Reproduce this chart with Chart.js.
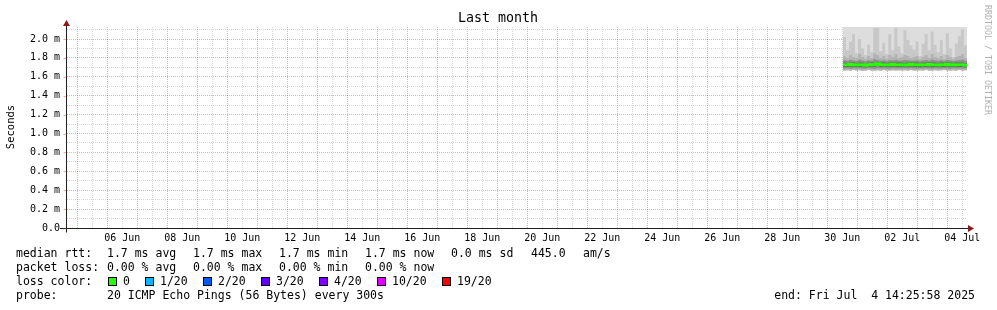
<!DOCTYPE html>
<html>
<head>
<meta charset="utf-8">
<title>Last month</title>
<script src="https://cdn.jsdelivr.net/npm/chart.js@4.4.1/dist/chart.umd.min.js"></script>
<style>
  html, body { margin: 0; padding: 0; background: #fff; }
  #grafico { display: block; }
</style>
</head>
<body>
<canvas id="grafico" width="997" height="310"></canvas>
<script>
// eixo x em dias de junho (31 = 01 Jul, 34 = 04 Jul)
const inicioJanela = 4.657;
const fimJanela = 34.657;
const inicioFumaca = 30.52;

const rotulosX = ['06 Jun', '08 Jun', '10 Jun', '12 Jun', '14 Jun', '16 Jun', '18 Jun', '20 Jun',
  '22 Jun', '24 Jun', '26 Jun', '28 Jun', '30 Jun', '02 Jul', '04 Jul'];
const valoresY = [0, 0.2, 0.4, 0.6, 0.8, 1.0, 1.2, 1.4, 1.6, 1.8, 2.0];
const rotulosY = ['0.0', '0.2 m', '0.4 m', '0.6 m', '0.8 m', '1.0 m', '1.2 m', '1.4 m', '1.6 m', '1.8 m', '2.0 m'];
const maximoY = 2.127;

// valores em ms
const pingMinimo = [1.668, 1.670, 1.666, 1.672, 1.668, 1.670, 1.665, 1.668, 1.671, 1.668, 1.666, 1.670, 1.668, 1.672,
  1.668, 1.666, 1.670, 1.668, 1.669, 1.667, 1.670, 1.668, 1.672, 1.668, 1.666, 1.670, 1.668, 1.671,
  1.668, 1.666, 1.670, 1.668, 1.669, 1.672, 1.668, 1.666, 1.670, 1.668, 1.671, 1.668, 1.670, 1.668];
const pingMaximo = [2.13, 2.13];
const fumacaPicos = [2.02, 1.88, 1.97, 2.05, 1.85, 2.00, 1.90, 1.83, 1.94, 1.86, 2.12, 2.12, 1.87, 1.96,
  1.84, 2.05, 1.88, 2.12, 1.92, 1.85, 2.09, 1.99, 1.93, 1.89, 1.97, 1.82, 1.95, 2.05,
  1.88, 2.08, 1.94, 1.86, 1.99, 1.84, 2.06, 1.90, 1.81, 1.95, 2.03, 2.10, 1.93, 1.98];
const fumacaMeio = [1.82, 1.80, 1.83, 1.81, 1.80, 1.84, 1.81, 1.79, 1.82, 1.80, 1.85, 1.83, 1.80, 1.82,
  1.79, 1.83, 1.81, 1.84, 1.80, 1.81, 1.83, 1.82, 1.80, 1.81, 1.82, 1.79, 1.81, 1.83,
  1.80, 1.84, 1.81, 1.80, 1.82, 1.79, 1.83, 1.81, 1.79, 1.81, 1.82, 1.84, 1.80, 1.82];
const escuraAlta = [1.775, 1.770, 1.778, 1.772, 1.768, 1.780, 1.772, 1.765, 1.775, 1.770, 1.785, 1.778, 1.770, 1.774,
  1.768, 1.776, 1.772, 1.780, 1.770, 1.772, 1.778, 1.775, 1.770, 1.772, 1.775, 1.766, 1.772, 1.778,
  1.770, 1.780, 1.772, 1.770, 1.775, 1.768, 1.778, 1.772, 1.766, 1.772, 1.775, 1.780, 1.770, 1.774];
const escuraBaixa = [1.688, 1.690, 1.686, 1.690, 1.688, 1.690, 1.685, 1.688, 1.690, 1.688, 1.686, 1.690, 1.688, 1.690,
  1.688, 1.686, 1.690, 1.688, 1.689, 1.687, 1.690, 1.688, 1.690, 1.688, 1.686, 1.690, 1.688, 1.690,
  1.688, 1.686, 1.690, 1.688, 1.689, 1.690, 1.688, 1.686, 1.690, 1.688, 1.690, 1.688, 1.690, 1.688];
const nucleoAlto = [1.748, 1.746, 1.750, 1.748, 1.745, 1.750, 1.748, 1.742, 1.748, 1.750, 1.748, 1.756, 1.748, 1.748,
  1.746, 1.748, 1.750, 1.748, 1.748, 1.748, 1.746, 1.748, 1.752, 1.748, 1.748, 1.744, 1.748, 1.748,
  1.750, 1.748, 1.748, 1.746, 1.748, 1.748, 1.752, 1.748, 1.746, 1.748, 1.748, 1.748, 1.742, 1.748];
const nucleoBaixo = [1.706, 1.706, 1.708, 1.706, 1.704, 1.706, 1.706, 1.700, 1.706, 1.708, 1.706, 1.714, 1.706, 1.706,
  1.704, 1.706, 1.708, 1.706, 1.706, 1.706, 1.704, 1.706, 1.710, 1.706, 1.706, 1.702, 1.706, 1.706,
  1.708, 1.706, 1.706, 1.704, 1.706, 1.706, 1.710, 1.706, 1.704, 1.706, 1.706, 1.706, 1.700, 1.706];
const medianaRtt = [1.728, 1.728, 1.730, 1.728, 1.726, 1.728, 1.728, 1.722, 1.728, 1.731, 1.728, 1.738, 1.728, 1.728,
  1.726, 1.728, 1.730, 1.728, 1.728, 1.728, 1.726, 1.728, 1.732, 1.728, 1.728, 1.724, 1.728, 1.728,
  1.730, 1.728, 1.728, 1.726, 1.728, 1.728, 1.732, 1.728, 1.726, 1.728, 1.728, 1.728, 1.722, 1.728];

const coresPerda = ['#26ff00', '#00b8ff', '#0059ff', '#5e00ff', '#7e00ff', '#dd00ff', '#ff0000'];
const rotulosPerda = ['0', '1/20', '2/20', '3/20', '4/20', '10/20', '19/20'];

// monta os pontos {x, y} a partir dos valores
function pontos(valores) {
  const passo = (fimJanela - inicioFumaca) / (valores.length - 1);
  return valores.map((v, i) => ({ x: inicioFumaca + i * passo, y: v }));
}

const fonteMono = "'DejaVu Sans Mono', 'Liberation Mono', monospace";
const corGradeMaior = 'rgba(255, 0, 0, 0.36)';
const corGradeMenor = 'rgba(128, 128, 128, 0.32)';

function serie(valores, cor, ordem, fill) {
  return {
    data: pontos(valores),
    borderColor: 'rgba(0,0,0,0)',
    borderWidth: 0,
    backgroundColor: cor,
    fill: fill,
    stepped: true,
    pointRadius: 0,
    order: ordem
  };
}

// cor da grade: linha maior (meia-noite / 0.2 m) vermelha, menor cinza
function corGradeX(c) {
  const v = c.tick ? c.tick.value : 0.5;
  return Math.abs(v - Math.round(v)) < 1e-6 ? corGradeMaior : corGradeMenor;
}
function corGradeY(c) {
  return c.index % 2 === 0 ? corGradeMaior : corGradeMenor;
}

const desenhoRrd = {
  id: 'desenhoRrd',
  afterDraw(chart) {
    const ctx = chart.ctx;
    const area = chart.chartArea;
    const sx = chart.scales.x;
    const sy = chart.scales.y;
    ctx.save();

    // eixos
    const baseY = Math.round(area.bottom) + 0.5;
    const ax = Math.round(area.left) - 0.5;
    ctx.strokeStyle = '#202020';
    ctx.lineWidth = 1;
    ctx.beginPath();
    ctx.moveTo(60, baseY);
    ctx.lineTo(970, baseY);
    ctx.moveTo(ax, baseY + 4);
    ctx.lineTo(ax, 23);
    ctx.stroke();

    // pequenas marcas a esquerda do eixo y
    ctx.strokeStyle = corGradeMaior;
    ctx.beginPath();
    valoresY.forEach((v) => {
      const py = Math.round(sy.getPixelForValue(v)) + 0.5;
      ctx.moveTo(ax - 3, py);
      ctx.lineTo(ax, py);
    });
    ctx.stroke();

    ctx.fillStyle = '#8b1a1a';
    ctx.beginPath();
    ctx.moveTo(968, baseY - 3.5);
    ctx.lineTo(974, baseY);
    ctx.lineTo(968, baseY + 3.5);
    ctx.closePath();
    ctx.fill();
    ctx.beginPath();
    ctx.moveTo(ax - 3.5, 26);
    ctx.lineTo(ax, 20);
    ctx.lineTo(ax + 3.5, 26);
    ctx.closePath();
    ctx.fill();

    // rotulos dos eixos
    ctx.fillStyle = '#000';
    ctx.font = '10px ' + fonteMono;
    ctx.textBaseline = 'middle';
    ctx.textAlign = 'right';
    valoresY.forEach((v, i) => {
      ctx.fillText(rotulosY[i], 60, sy.getPixelForValue(v));
    });
    ctx.textAlign = 'center';
    rotulosX.forEach((r, i) => {
      ctx.fillText(r, sx.getPixelForValue(6.5 + 2 * i), 238);
    });

    // titulo
    ctx.font = '13.3px ' + fonteMono;
    ctx.fillText('Last month', 498, 19);

    // titulo do eixo y
    ctx.save();
    ctx.translate(11, 127);
    ctx.rotate(-Math.PI / 2);
    ctx.font = '10.5px ' + fonteMono;
    ctx.fillText('Seconds', 0, 0);
    ctx.restore();

    // marca d'agua
    ctx.save();
    ctx.translate(987, 60);
    ctx.rotate(Math.PI / 2);
    ctx.fillStyle = '#b0b0b0';
    ctx.font = '8.3px ' + fonteMono;
    ctx.fillText('RRDTOOL / TOBI OETIKER', 0, 0);
    ctx.restore();

    // legenda
    ctx.font = '11.5px ' + fonteMono;
    ctx.textAlign = 'left';
    ctx.fillStyle = '#000';
    const linhas = [
      [254, [[16, 'median rtt:'], [107, '1.7 ms avg'], [193, '1.7 ms max'], [279, '1.7 ms min'],
        [365, '1.7 ms now'], [451, '0.0 ms sd'], [531, '445.0'], [583, 'am/s']]],
      [268, [[16, 'packet loss:'], [107, '0.00 % avg'], [193, '0.00 % max'], [279, '0.00 % min'],
        [365, '0.00 % now']]],
      [282, [[16, 'loss color:']]],
      [296, [[16, 'probe:'], [107, '20 ICMP Echo Pings (56 Bytes) every 300s']]]
    ];
    linhas.forEach(([y, partes]) => {
      partes.forEach(([x, t]) => ctx.fillText(t, x, y));
    });

    const caixasX = [108, 145, 203, 261, 319, 377, 442];
    coresPerda.forEach((cor, i) => {
      const x = caixasX[i];
      ctx.fillStyle = cor;
      ctx.fillRect(x, 277, 9, 9);
      ctx.strokeStyle = '#000';
      ctx.strokeRect(x + 0.5, 277.5, 8, 8);
      ctx.fillStyle = '#000';
      ctx.fillText(rotulosPerda[i], x + 15, 282);
    });

    ctx.textAlign = 'right';
    ctx.fillText('end: Fri Jul  4 14:25:58 2025', 975, 296);

    ctx.restore();
  }
};

const ctx = document.getElementById('grafico').getContext('2d');

new Chart(ctx, {
  type: 'line',
  data: {
    datasets: [
      serie(pingMinimo, 'rgba(0,0,0,0)', 20, false),
      serie(pingMaximo, '#dddddd', 12, { target: 0 }),
      serie(fumacaPicos, '#c8c8c8', 11, { target: 0 }),
      serie(fumacaMeio, '#b3b3b3', 10, { target: 0 }),
      serie(escuraBaixa, 'rgba(0,0,0,0)', 20, false),
      serie(escuraAlta, '#8e8e8e', 9, '-1'),
      serie(nucleoBaixo, 'rgba(0,0,0,0)', 20, false),
      serie(nucleoAlto, '#505050', 8, '-1'),
      {
        data: pontos(medianaRtt),
        borderColor: '#26ff00',
        borderWidth: 3,
        fill: false,
        stepped: true,
        pointRadius: 0,
        order: 1
      }
    ]
  },
  options: {
    responsive: false,
    animation: false,
    events: [],
    layout: { padding: { left: 67, right: 30, top: 27, bottom: 82 } },
    plugins: {
      legend: { display: false },
      title: { display: false },
      tooltip: { enabled: false }
    },
    scales: {
      x: {
        type: 'linear',
        min: inicioJanela,
        max: fimJanela,
        z: 1,
        afterBuildTicks: (escala) => {
          const marcas = [];
          for (let v = 5; v <= 34.5; v += 0.5) marcas.push({ value: v });
          escala.ticks = marcas;
        },
        ticks: { display: false },
        grid: { drawTicks: false, color: corGradeX },
        border: { display: false, dash: [1, 1] }
      },
      y: {
        type: 'linear',
        min: 0,
        max: maximoY,
        z: 1,
        afterBuildTicks: (escala) => {
          const marcas = [];
          for (let i = 0; i <= 21; i++) marcas.push({ value: i / 10 });
          escala.ticks = marcas;
        },
        ticks: { display: false },
        grid: { drawTicks: false, color: corGradeY },
        border: { display: false, dash: [1, 1] }
      }
    }
  },
  plugins: [desenhoRrd]
});
</script>
</body>
</html>
